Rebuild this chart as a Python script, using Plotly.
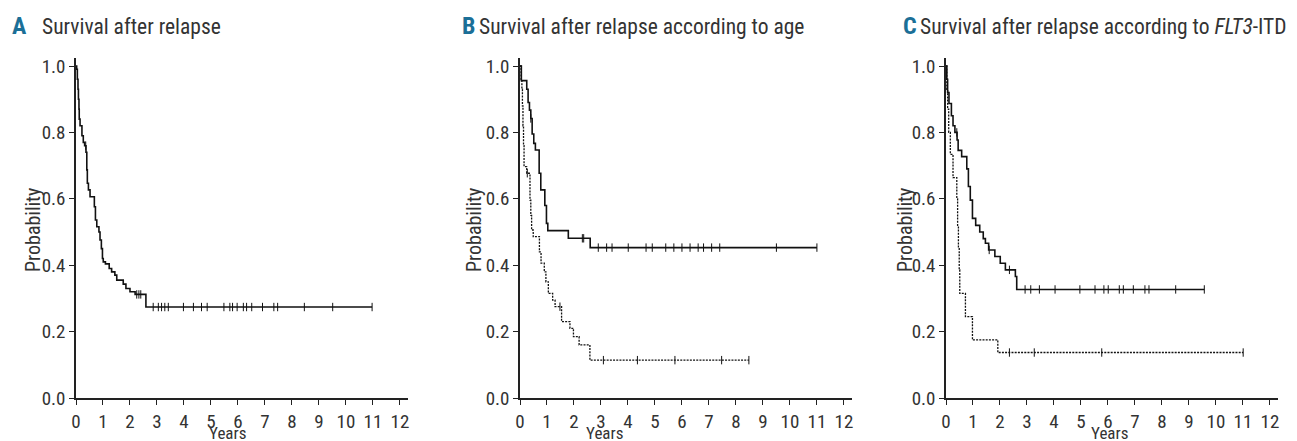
import plotly.graph_objects as go
import numpy as np

# ---------------- data ----------------
# Panel A: overall survival after relapse
A_t = [0, 0.025, 0.05, 0.074, 0.09, 0.11, 0.12, 0.15, 0.22, 0.27, 0.32, 0.37, 0.40, 0.42, 0.46, 0.52,
       0.68, 0.72, 0.77, 0.85, 0.89, 0.94, 0.98, 1.01, 1.09, 1.23, 1.32, 1.44, 1.51, 1.75, 1.85, 2.0, 2.19, 2.59]
A_s = [1.0, 0.99, 0.96, 0.93, 0.90, 0.87, 0.84, 0.82, 0.79, 0.77, 0.76, 0.74, 0.687, 0.647, 0.627, 0.606,
       0.576, 0.536, 0.516, 0.50, 0.476, 0.45, 0.42, 0.41, 0.404, 0.39, 0.38, 0.37, 0.355, 0.343, 0.33, 0.32, 0.312, 0.274]
A_cens = [0.36, 2.25, 2.33, 2.40, 2.86, 3.05, 3.17, 3.29, 3.42, 3.98, 4.35, 4.65, 4.86, 5.48, 5.70, 5.80,
          5.97, 6.20, 6.32, 6.51, 6.91, 7.33, 7.47, 8.46, 9.51, 10.97]

# Panel B: by age (solid = younger, dotted = older)
B1_t = [0, 0.05, 0.25, 0.30, 0.35, 0.40, 0.45, 0.51, 0.57, 0.71, 0.77, 0.92, 0.98, 1.03, 1.79, 2.60]
B1_s = [1.0, 0.956, 0.93, 0.89, 0.867, 0.842, 0.795, 0.767, 0.747, 0.677, 0.627, 0.58, 0.526, 0.504, 0.481, 0.453]
B1_cens = [0.40, 2.31, 2.36, 2.90, 3.21, 3.41, 4.01, 4.67, 4.90, 5.4, 5.7, 6.0, 6.3, 6.6, 6.8, 7.1, 7.4, 9.5, 11.0]

B2_t = [0, 0.04, 0.07, 0.09, 0.11, 0.13, 0.15, 0.25, 0.37, 0.40, 0.43, 0.49, 0.72, 0.78, 0.90, 0.96, 1.05,
        1.21, 1.30, 1.54, 1.85, 1.98, 2.19, 2.59]
B2_s = [1.0, 0.96, 0.93, 0.88, 0.82, 0.76, 0.697, 0.677, 0.596, 0.55, 0.506, 0.486, 0.44, 0.406, 0.38, 0.35,
        0.315, 0.295, 0.275, 0.23, 0.21, 0.185, 0.16, 0.114]
B2_cens = [0.27, 1.48, 3.09, 4.35, 5.74, 7.47, 8.48]

# Panel C: by FLT3-ITD (solid = negative, dotted = positive)
C1_t = [0, 0.03, 0.06, 0.11, 0.20, 0.26, 0.33, 0.41, 0.45, 0.58, 0.77, 0.83, 0.90, 0.98, 1.10, 1.25, 1.38,
        1.46, 1.58, 1.81, 2.01, 2.20, 2.57, 2.62]
C1_s = [1.0, 0.96, 0.92, 0.887, 0.85, 0.82, 0.80, 0.777, 0.746, 0.727, 0.69, 0.637, 0.596, 0.541, 0.52, 0.50,
        0.48, 0.466, 0.446, 0.426, 0.406, 0.386, 0.366, 0.327]
C1_cens = [0.40, 1.60, 2.35, 2.93, 3.14, 3.46, 4.04, 4.96, 5.52, 5.85, 6.01, 6.42, 6.57, 6.94, 7.37, 7.52, 8.51, 9.57]

C2_t = [0, 0.03, 0.06, 0.10, 0.16, 0.26, 0.40, 0.43, 0.46, 0.49, 0.51, 0.72, 0.98, 1.92]
C2_s = [1.0, 0.93, 0.87, 0.80, 0.734, 0.664, 0.60, 0.52, 0.45, 0.386, 0.315, 0.245, 0.175, 0.137]
C2_cens = [2.35, 3.27, 5.77, 11.01]

panel_letters = ["A", "B", "C"]
panel_titles = ["Survival after relapse",
                "Survival after relapse according to age",
                "Survival after relapse according to <i>FLT3</i>-ITD"]
x_ticks = list(range(0, 13))
y_ticks = [0.0, 0.2, 0.4, 0.6, 0.8, 1.0]
y_ticktext = ["0.0", "0.2", "0.4", "0.6", "0.8", "1.0"]

# ---------------- layout geometry ----------------
W, H = 1297, 441
FONT = "Roboto Condensed, DejaVu Sans Condensed, Liberation Sans Narrow, Liberation Sans, sans-serif"
LETTER_COLOR = "#1b6f97"
TEXT_COLOR = "#333333"

x_px = [(76, 408), (520, 852), (946, 1278)]
y_px = (398, 57.7)  # bottom, top


def px2x(p):
    return p / W


def px2y(p):
    return 1 - p / H


def step_value(ts, ss, t):
    idx = np.searchsorted(np.asarray(ts), t, side="right") - 1
    return ss[max(idx, 0)]


fig = go.Figure()

series = [
    (1, A_t, A_s, A_cens, "solid"),
    (2, B1_t, B1_s, B1_cens, "solid"),
    (2, B2_t, B2_s, B2_cens, "2px,1.2px"),
    (3, C1_t, C1_s, C1_cens, "solid"),
    (3, C2_t, C2_s, C2_cens, "2px,1.2px"),
]

for k, ts, ss, cens, dash in series:
    xa = "x" if k == 1 else f"x{k}"
    ya = "y" if k == 1 else f"y{k}"
    end_t = max(cens)
    xs = list(ts) + [end_t]
    ys = list(ss) + [ss[-1]]
    width = 1.6 if dash == "solid" else 1.3
    fig.add_trace(go.Scatter(x=xs, y=ys, mode="lines", line=dict(shape="hv", color="#111111",
                  width=width, dash=dash), xaxis=xa, yaxis=ya, showlegend=False, hoverinfo="skip"))
    cy = [step_value(ts, ss, c) for c in cens]
    fig.add_trace(go.Scatter(x=cens, y=cy, mode="markers",
                  marker=dict(symbol="line-ns-open", size=6, color="#111111",
                              line=dict(width=1, color="#111111")),
                  xaxis=xa, yaxis=ya, showlegend=False, hoverinfo="skip"))

TICK_SIZE = 19
layout = dict(width=W, height=H, margin=dict(l=0, r=0, t=0, b=0),
              paper_bgcolor="white", plot_bgcolor="white",
              font=dict(family=FONT, size=TICK_SIZE, color=TEXT_COLOR))

for i in range(3):
    n = "" if i == 0 else str(i + 1)
    layout[f"xaxis{n}"] = dict(domain=[px2x(x_px[i][0]), px2x(x_px[i][1])], range=[0, 12.3],
                               anchor=f"y{n}", tickvals=x_ticks, ticks="outside", ticklen=5, tickwidth=1,
                               tickcolor="#222", showline=True, linecolor="#222", linewidth=1.5,
                               showgrid=False, zeroline=False, fixedrange=True, automargin=False,
                               tickfont=dict(family=FONT, size=TICK_SIZE, color=TEXT_COLOR))
    layout[f"yaxis{n}"] = dict(domain=[px2y(y_px[0]), px2y(y_px[1])], range=[0, 1.025],
                               anchor=f"x{n}", tickvals=y_ticks, ticktext=y_ticktext, ticks="outside",
                               ticklen=5, tickwidth=1, tickcolor="#222", showline=True, linecolor="#222",
                               linewidth=1.5, showgrid=False, zeroline=False, fixedrange=True, automargin=False,
                               tickfont=dict(family=FONT, size=TICK_SIZE, color=TEXT_COLOR))

fig.update_layout(**layout)

letter_x = [10, 460, 901]
title_x = [40, 477, 918]
prob_x = [33, 474, 905]
years_x = [228, 604, 1109]
ann = []
for i in range(3):
    ann.append(dict(text=f"<b>{panel_letters[i]}</b>", x=px2x(letter_x[i]), y=px2y(26), xref="paper",
                    yref="paper", xanchor="left", yanchor="middle", showarrow=False,
                    font=dict(family=FONT, size=24, color=LETTER_COLOR)))
    ann.append(dict(text=panel_titles[i], x=px2x(title_x[i]), y=px2y(26), xref="paper", yref="paper",
                    xanchor="left", yanchor="middle", showarrow=False,
                    font=dict(family=FONT, size=21.5, color=TEXT_COLOR)))
    ann.append(dict(text="Probability", x=px2x(prob_x[i]), y=px2y(230), xref="paper", yref="paper",
                    xanchor="center", yanchor="middle", textangle=-90, showarrow=False,
                    font=dict(family=FONT, size=20, color=TEXT_COLOR)))
    ann.append(dict(text="Years", x=px2x(years_x[i]), y=px2y(421), xref="paper", yref="paper",
                    xanchor="center", yanchor="top", showarrow=False,
                    font=dict(family=FONT, size=17, color=TEXT_COLOR)))
fig.update_layout(annotations=ann)

fig.write_html("out.html")
